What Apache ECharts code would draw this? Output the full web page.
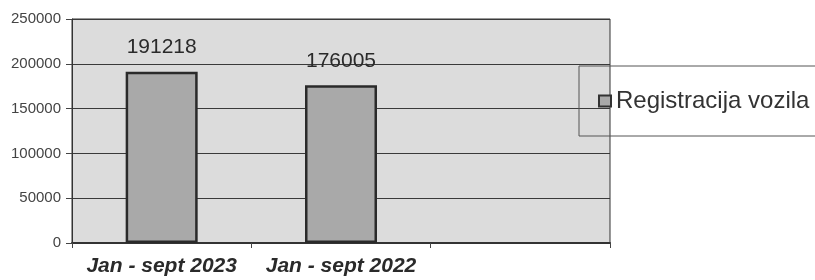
<!DOCTYPE html>
<html>
<head>
<meta charset="utf-8">
<script src="https://cdn.jsdelivr.net/npm/echarts@6/dist/echarts.min.js"></script>
<style>html,body{margin:0;padding:0;background:#fff}#c{width:815px;height:280px}</style>
</head>
<body>
<div id="c"></div>
<script>
const categories = ['Jan - sept 2023', 'Jan - sept 2022', ''];
const seriesName = 'Registracija vozila';
const values = [191218, 176005, null];
const yTicks = { min: 0, max: 250000, interval: 50000 };

const FONT = 'Liberation Sans, Arial, sans-serif';
const chart = echarts.init(document.getElementById('c'), null, { renderer: 'canvas' });
chart.setOption({
  animation: false,
  backgroundColor: '#ffffff',
  grid: {
    left: 72, right: 205, top: 19, bottom: 37,
    show: true, backgroundColor: '#dcdcdc', borderColor: '#333', borderWidth: 1
  },
  legend: {
    data: [seriesName],
    left: 579, top: 66,
    orient: 'vertical',
    padding: [23, 60, 23, 19],
    borderColor: '#555', borderWidth: 1,
    backgroundColor: 'transparent',
    itemWidth: 12, itemHeight: 11,
    icon: 'rect',
    itemStyle: { color: '#a9a9a9', borderColor: '#333', borderWidth: 2 },
    textStyle: { fontFamily: FONT, fontSize: 24, color: '#333' }
  },
  xAxis: {
    type: 'category',
    data: categories,
    boundaryGap: true,
    axisLine: { lineStyle: { color: '#333', width: 2 } },
    axisTick: { show: true, interval: 0, length: 5, lineStyle: { color: '#444' } },
    axisLabel: {
      interval: 0, margin: 13,
      fontFamily: FONT, fontSize: 21, fontWeight: 'bold', fontStyle: 'italic', color: '#2a2a2a'
    }
  },
  yAxis: {
    type: 'value',
    min: yTicks.min, max: yTicks.max, interval: yTicks.interval,
    axisLine: { show: true, lineStyle: { color: '#333', width: 1 } },
    axisTick: { show: true, length: 6, lineStyle: { color: '#444' } },
    axisLabel: { margin: 11, fontFamily: FONT, fontSize: 15, color: '#444', formatter: v => String(v) },
    splitLine: { show: true, lineStyle: { color: '#3a3a3a', width: 1 } }
  },
  series: [{
    name: seriesName,
    type: 'bar',
    data: values,
    barWidth: 72,
    itemStyle: { color: '#a9a9a9', borderColor: '#2a2a2a', borderWidth: 2.5 },
    label: {
      show: true, position: 'top', distance: 14,
      fontFamily: FONT, fontSize: 21, color: '#2a2a2a'
    }
  }]
});
</script>
</body>
</html>
